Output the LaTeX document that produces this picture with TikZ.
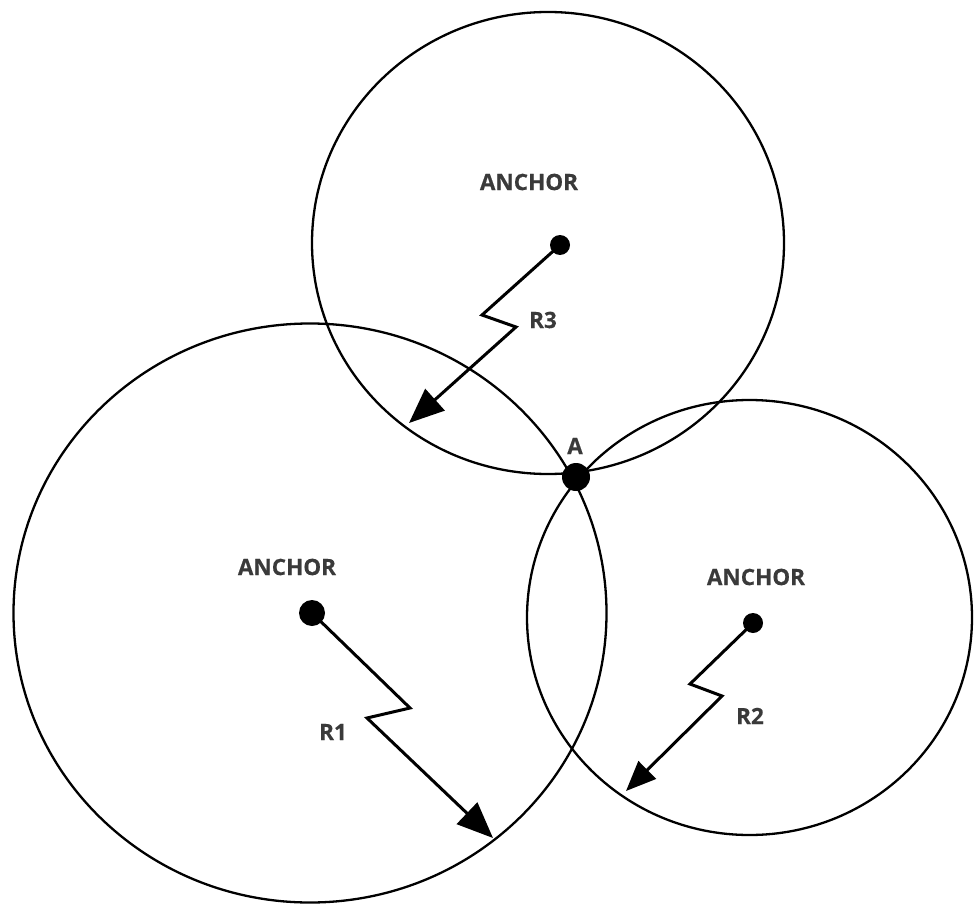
\documentclass[tikz,border=0pt]{standalone}
\usepackage{fontspec}
\setmainfont{Open Sans}[FakeBold=0.4]
\usetikzlibrary{arrows.meta}
\definecolor{labelgray}{HTML}{3A3A3A}
\begin{document}
\begin{tikzpicture}[x=1pt,y=-1pt,
    rangecircle/.style={draw=black,line width=2.3pt},
    anchordot/.style={circle,fill=black,inner sep=0pt,minimum size=#1},
    rangearrow/.style={draw=black,line width=3pt,line join=miter,
      -{Triangle[length=#1,width=0.82*#1]}},
    tag/.style={text=labelgray,font=\bfseries\fontsize{22.5}{26}\selectfont,inner sep=0pt}]
  \useasboundingbox (0,0) rectangle (974,904);

  % range circles of the three anchors
  \draw[rangecircle] (310,613) ellipse [x radius=296.5, y radius=289.5];
  \draw[rangecircle] (548,243) ellipse [x radius=236, y radius=231];
  \draw[rangecircle] (749.5,617.5) ellipse [x radius=222.5, y radius=217.5];

  % anchor positions and the common point
  \node[anchordot=26pt] (a1) at (312,613) {};
  \node[anchordot=20pt] (a3) at (560,245) {};
  \node[anchordot=20pt] (a2) at (753,623) {};
  \node[anchordot=28pt] (pa) at (576,477) {};

  % radius arrow end points on the circles
  \coordinate (t1) at (493,838);
  \coordinate (t3) at (409,423);
  \coordinate (t2) at (626,791);

  % radius arrows with a zigzag break
  \draw[rangearrow=36pt] (a1.center) -- (410,708) -- (367,718) -- (t1);
  \draw[rangearrow=35pt] (a3.center) -- (482,315) -- (516,327) -- (t3);
  \draw[rangearrow=30pt] (a2.center) -- (690,684) -- (722,696) -- (t2);

  % labels
  \node[tag] (l3) at (529,182) {ANCHOR};
  \node[tag] (l1) at (287,567) {ANCHOR};
  \node[tag] (l2) at (756,577) {ANCHOR};
  \node[tag] (lr1) at (333,732) {R1};
  \node[tag] (lr3) at (543,320) {R3};
  \node[tag] (lr2) at (750,716) {R2};
  \node[tag] (la) at (575,446) {A};
\end{tikzpicture}
\end{document}
